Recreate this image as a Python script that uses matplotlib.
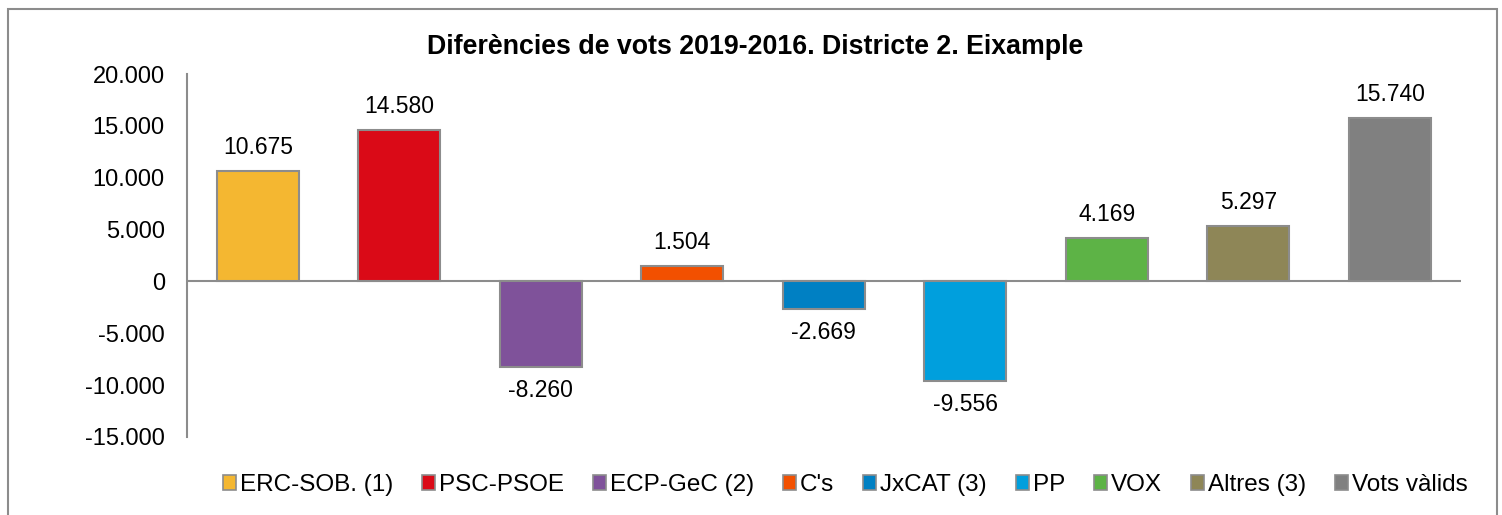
import matplotlib.pyplot as plt
from matplotlib.patches import Rectangle

plt.rcParams['font.family'] = ['Liberation Sans', 'DejaVu Sans']

# Vote differences 2019-2016, District 2 (Eixample)
parties = ['ERC-SOB. (1)', 'PSC-PSOE', 'ECP-GeC (2)', "C's", 'JxCAT (3)',
           'PP', 'VOX', 'Altres (3)', 'Vots vàlids']
diffs = [10675, 14580, -8260, 1504, -2669, -9556, 4169, 5297, 15740]
colors = ['#F4B731', '#DA0A17', '#7F529A', '#F25000', '#0080C3',
          '#009FDD', '#5DB346', '#8E8657', '#808080']
yticks = [-15000, -10000, -5000, 0, 5000, 10000, 15000, 20000]


def fmt(v):
    return f'{v:,}'.replace(',', '.')


fig = plt.figure(figsize=(15.02, 5.15), dpi=100)
ax = fig.add_axes([0.1245, 0.1515, 0.848, 0.7048])

x = list(range(len(parties)))
bars = ax.bar(x, diffs, width=0.58, color=colors, edgecolor='#8c8c8c',
              linewidth=1.5, label=parties, zorder=3)

for xi, v in zip(x, diffs):
    off = 17 if v >= 0 else -17
    ax.annotate(fmt(v), (xi, v), xytext=(0, off), textcoords='offset points',
                ha='center', va='center', fontsize=16.5)

ax.set_xlim(-0.5, len(parties) - 0.5)
ax.set_ylim(-15000, 20000)
ax.set_yticks(yticks)
ax.set_yticklabels([fmt(t) for t in yticks], fontsize=17)
ax.set_xticks([])
ax.tick_params(axis='y', length=0, pad=16)
ax.axhline(0, color='#8c8c8c', linewidth=1.5, zorder=2)
for s in ['top', 'right', 'bottom']:
    ax.spines[s].set_visible(False)
ax.spines['left'].set_color('#8c8c8c')
ax.spines['left'].set_linewidth(1.5)

fig.text(0.503, 0.908, 'Diferències de vots 2019-2016. Districte 2. Eixample',
         ha='center', va='center', fontsize=19.3, fontweight='bold')

handles = [Rectangle((0, 0), 1, 1, facecolor=c, edgecolor='#8c8c8c', linewidth=1.2)
           for c in colors]
fig.legend(handles, parties, loc='center', bbox_to_anchor=(0.5626, 0.058),
           ncol=len(parties), frameon=False, fontsize=17.5,
           handlelength=0.55, handleheight=0.55, handletextpad=0.15,
           columnspacing=1.19)

fig.patches.append(Rectangle((0.0053, -0.05), 0.9914, 1.032, transform=fig.transFigure,
                             fill=False, edgecolor='#8c8c8c', linewidth=1.5))

fig.savefig('out.png', dpi=100)
